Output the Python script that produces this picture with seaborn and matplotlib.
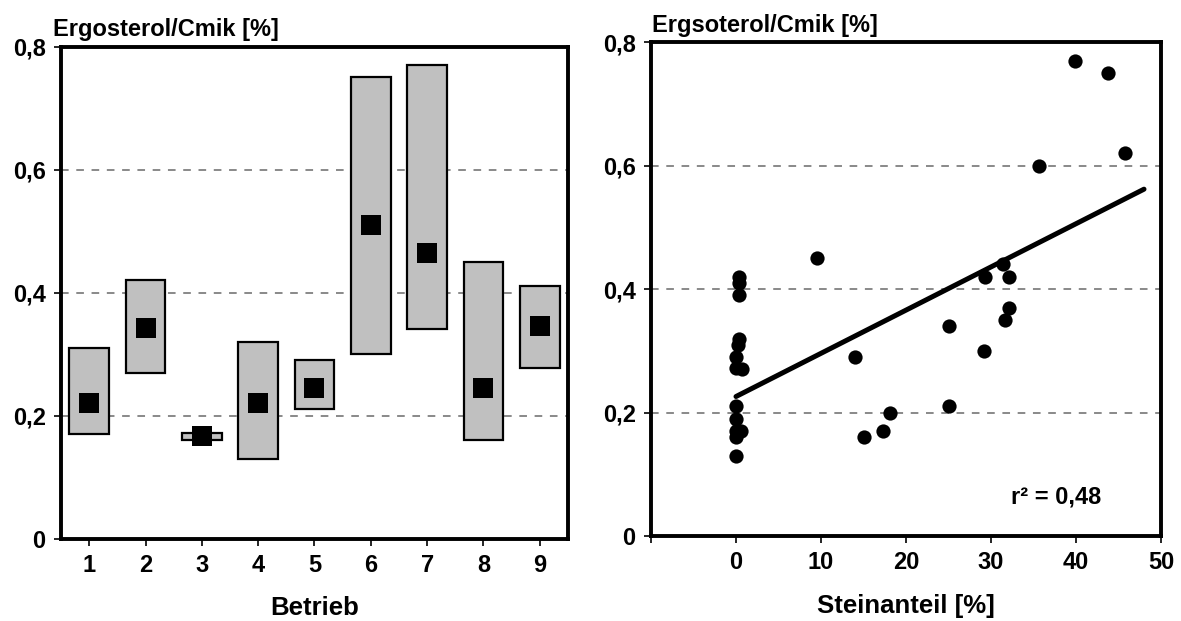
import matplotlib
matplotlib.use("Agg")
import matplotlib.pyplot as plt
import seaborn as sns
import numpy as np
import pandas as pd

# ---- data: left panel (Betrieb ranges and means) ----
betrieb = [1, 2, 3, 4, 5, 6, 7, 8, 9]
box_low = [0.170, 0.270, 0.160, 0.130, 0.210, 0.300, 0.340, 0.160, 0.278]
box_high = [0.310, 0.420, 0.172, 0.320, 0.290, 0.750, 0.770, 0.450, 0.410]
box_mean = [0.221, 0.343, 0.167, 0.221, 0.245, 0.510, 0.465, 0.245, 0.345]

# ---- data: right panel (scatter) ----
stein = [0.4, 0.4, 0.3, 0.4, 0.2, 0.0, 0.0, 0.7, 0.0, 0.0, 0.0, 0.6, 0.0, 0.0,
         9.5, 14.0, 15.1, 17.3, 18.1, 25.0, 25.1, 29.2, 29.3, 31.4, 31.7, 32.1, 32.1,
         35.7, 39.9, 43.8, 45.8]
ergo = [0.420, 0.410, 0.390, 0.320, 0.310, 0.290, 0.272, 0.270, 0.210, 0.190, 0.170, 0.170, 0.160, 0.130,
        0.450, 0.290, 0.160, 0.170, 0.200, 0.340, 0.210, 0.300, 0.420, 0.440, 0.350, 0.370, 0.420,
        0.600, 0.770, 0.750, 0.620]
fit_x = [0.0, 48.0]
fit_intercept = 0.226
fit_slope = 0.0070
r2_label = "r² = 0,48"

sns.set_theme(style="white")
plt.rcParams["font.family"] = ["Liberation Sans", "DejaVu Sans"]
plt.rcParams["font.weight"] = "bold"
for k in ["text.color", "axes.labelcolor", "xtick.color", "ytick.color"]:
    plt.rcParams[k] = "black"

W, H = 1181, 621
fig = plt.figure(figsize=(W / 100, H / 100), dpi=100)
ax1 = fig.add_axes([61 / W, 1 - 538.5 / H, (568 - 61) / W, (538.5 - 46.7) / H])
ax2 = fig.add_axes([651 / W, 1 - 536 / H, (1161 - 651) / W, (536 - 42.3) / H])

tick_fs = 17
label_fs = 18.5
title_fs = 17
grid_kw = dict(color="#6a6a6a", linestyle=(0, (5, 5)), linewidth=1.1, zorder=0)

# ---- left panel ----
for g in [0.2, 0.4, 0.6]:
    ax1.axhline(g, **grid_kw)

df_box = pd.DataFrame({"Betrieb": betrieb,
                       "height": np.array(box_high) - np.array(box_low),
                       "low": box_low, "mean": box_mean})
sns.barplot(data=df_box, x="Betrieb", y="height", native_scale=True, width=0.71,
            errorbar=None, color="#C0C0C0", bottom=df_box["low"].values,
            edgecolor="black", linewidth=1.6, ax=ax1, zorder=2)
sns.scatterplot(data=df_box, x="Betrieb", y="mean", marker="s", s=200, color="black",
                edgecolor="black", linewidth=0, ax=ax1, zorder=3)

ax1.set_xlim(0.5, 9.5)
ax1.set_ylim(0, 0.8)
ax1.set_xticks(betrieb)
ax1.set_xticklabels([str(b) for b in betrieb])
ax1.set_yticks([0, 0.2, 0.4, 0.6, 0.8])
ax1.set_yticklabels(["0", "0,2", "0,4", "0,6", "0,8"])
ax1.set_xlabel("Betrieb", fontsize=label_fs, fontweight="bold", labelpad=14)
ax1.set_ylabel("")

# ---- right panel ----
for g in [0.2, 0.4, 0.6]:
    ax2.axhline(g, **grid_kw)
df_sc = pd.DataFrame({"Steinanteil": stein, "Ergosterol": ergo})
sns.scatterplot(data=df_sc, x="Steinanteil", y="Ergosterol", s=105, color="black",
                edgecolor="black", linewidth=0, ax=ax2, zorder=3)
fx = np.array(fit_x)
sns.lineplot(x=fx, y=fit_intercept + fit_slope * fx, color="black", linewidth=3.6,
             ax=ax2, zorder=4)
ax2.text(32.3, 0.063, r2_label, fontsize=tick_fs, fontweight="bold", ha="left", va="center")

ax2.set_xlim(-10, 50)
ax2.set_ylim(0, 0.8)
ax2.set_xticks([-10, 0, 10, 20, 30, 40, 50])
ax2.set_xticklabels(["", "0", "10", "20", "30", "40", "50"])
ax2.set_yticks([0, 0.2, 0.4, 0.6, 0.8])
ax2.set_yticklabels(["0", "0,2", "0,4", "0,6", "0,8"])
ax2.set_xlabel("Steinanteil [%]", fontsize=label_fs, fontweight="bold", labelpad=14)
ax2.set_ylabel("")

for ax in (ax1, ax2):
    for sp in ax.spines.values():
        sp.set_visible(True)
        sp.set_color("black")
        sp.set_linewidth(2.8)
    ax.tick_params(axis="both", which="major", direction="out", length=5, width=1.2,
                   color="black", labelcolor="black", labelsize=tick_fs, pad=6,
                   bottom=True, left=True)
    for lab in ax.get_xticklabels() + ax.get_yticklabels():
        lab.set_fontweight("bold")
    ax.grid(False)

fig.text(53 / W, 1 - 36 / H, "Ergosterol/Cmik [%]", fontsize=title_fs, fontweight="bold",
         ha="left", va="baseline", color="black")
fig.text(652 / W, 1 - 32 / H, "Ergsoterol/Cmik [%]", fontsize=title_fs, fontweight="bold",
         ha="left", va="baseline", color="black")

fig.savefig("out.png", dpi=100, facecolor="white")
